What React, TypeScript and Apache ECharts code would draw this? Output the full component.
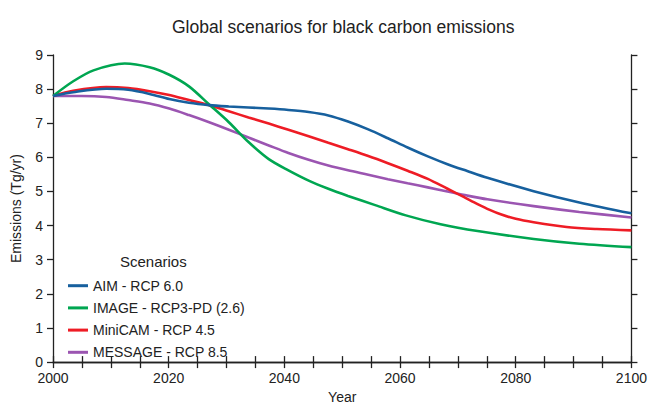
import React, { useEffect, useRef } from "react";
import * as echarts from "echarts";

const aimYears = [2000, 2003.5, 2009.2, 2013, 2016.7, 2020.1, 2023.5, 2027, 2030.4, 2033.8, 2037.3, 2040.7, 2044.2, 2047.6, 2051, 2054.5, 2057.9, 2061.3, 2064.8, 2068.2, 2071.6, 2075.1, 2083.1, 2091, 2100];
const aimValues = [7.8, 7.91, 8.01, 7.98, 7.86, 7.71, 7.6, 7.53, 7.49, 7.46, 7.43, 7.39, 7.33, 7.23, 7.05, 6.82, 6.56, 6.29, 6.03, 5.8, 5.6, 5.4, 5.01, 4.68, 4.36];

const imageYears = [2000, 2003.5, 2007, 2012.4, 2016.7, 2020.1, 2023.5, 2027, 2030.4, 2033.8, 2037.3, 2040.7, 2044.2, 2047.6, 2051, 2055.7, 2061, 2067, 2073.4, 2083.1, 2091, 2100];
const imageValues = [7.8, 8.23, 8.55, 8.75, 8.64, 8.42, 8.08, 7.55, 7.03, 6.45, 5.95, 5.62, 5.32, 5.08, 4.87, 4.6, 4.3, 4.04, 3.84, 3.61, 3.47, 3.37];

const miniCamYears = [2000, 2003.5, 2009.2, 2013, 2016.7, 2020.1, 2023.5, 2027, 2030.4, 2033.8, 2037.3, 2040.7, 2044.2, 2047.6, 2051, 2054.5, 2057.9, 2061.3, 2064.8, 2068.2, 2071, 2073.4, 2075.5, 2077.4, 2080, 2083.1, 2088.8, 2094, 2100];
const miniCamValues = [7.8, 7.95, 8.06, 8.03, 7.94, 7.83, 7.68, 7.53, 7.35, 7.17, 6.99, 6.81, 6.62, 6.43, 6.24, 6.04, 5.83, 5.61, 5.37, 5.08, 4.84, 4.63, 4.46, 4.33, 4.2, 4.1, 3.96, 3.9, 3.86];

const messageYears = [2000, 2005, 2009.2, 2013, 2016.7, 2020.1, 2023.5, 2027, 2030.4, 2033.8, 2037.3, 2040.7, 2044.2, 2047.6, 2051, 2054.5, 2057.9, 2061.3, 2064.8, 2068.2, 2071.6, 2075.1, 2083.1, 2091, 2100];
const messageValues = [7.8, 7.8, 7.77, 7.68, 7.58, 7.43, 7.24, 7.03, 6.81, 6.58, 6.35, 6.13, 5.93, 5.76, 5.62, 5.49, 5.36, 5.24, 5.12, 5.0, 4.88, 4.77, 4.57, 4.4, 4.24];

const seriesNames = ["AIM - RCP 6.0", "IMAGE - RCP3-PD (2.6)", "MiniCAM - RCP 4.5", "MESSAGE - RCP 8.5"];
const seriesYears = [aimYears, imageYears, miniCamYears, messageYears];
const seriesValues = [aimValues, imageValues, miniCamValues, messageValues];
const seriesColors = ["#17609e", "#00a651", "#ee1c25", "#9b55b1"];

const FONT = "'Liberation Sans', Arial, sans-serif";

export default function App() {
  const ref = useRef<HTMLDivElement>(null);
  useEffect(() => {
    if (!ref.current) return;
    const chart = echarts.init(ref.current, null, { renderer: "svg" });
    const axisLine = { show: true, lineStyle: { color: "#222", width: 1.3 } };
    const tickStyle = { color: "#222", width: 1.3 };
    chart.setOption({
      animation: false,
      backgroundColor: "#fff",
      textStyle: { fontFamily: FONT },
      title: {
        text: "Global scenarios for black carbon emissions",
        left: 172,
        top: 18,
        padding: 0,
        textStyle: { fontFamily: FONT, fontSize: 17.5, fontWeight: "normal", color: "#222" },
      },
      grid: { left: 53, right: 14, top: 55, bottom: 42 },
      legend: {
        orient: "vertical",
        left: 68,
        top: 277.7,
        padding: 0,
        icon: "rect",
        itemWidth: 20,
        itemHeight: 3,
        itemGap: 6.2,
        data: seriesNames,
        textStyle: { fontFamily: FONT, fontSize: 14, color: "#222", lineHeight: 16 },
      },
      graphic: [
        {
          type: "text",
          left: 120,
          top: 254,
          style: { text: "Scenarios", fontFamily: FONT, fontSize: 15, fill: "#222" },
        },
      ],
      xAxis: [
        {
          type: "value",
          min: 2000,
          max: 2100,
          interval: 20,
          position: "bottom",
          axisLine,
          axisTick: { show: true, inside: false, length: 6, lineStyle: tickStyle },
          minorTick: { show: true, splitNumber: 4, length: 6, lineStyle: tickStyle },
          splitLine: { show: false },
          axisLabel: { color: "#222", fontSize: 14, fontFamily: FONT, margin: 9, formatter: (v: number) => String(v) },
          name: "Year",
          nameLocation: "middle",
          nameGap: 27,
          nameTextStyle: { color: "#222", fontSize: 14, fontFamily: FONT },
        },
        {
          type: "value",
          min: 2000,
          max: 2100,
          interval: 20,
          position: "top",
          axisLine,
          axisTick: { show: true, inside: false, length: 6, lineStyle: tickStyle },
          minorTick: { show: true, splitNumber: 4, length: 6, lineStyle: tickStyle },
          splitLine: { show: false },
          axisLabel: { show: false },
        },
      ],
      yAxis: [
        {
          type: "value",
          min: 0,
          max: 9,
          interval: 1,
          position: "left",
          axisLine,
          axisTick: { show: true, inside: false, length: 6, lineStyle: tickStyle },
          splitLine: { show: false },
          axisLabel: { color: "#222", fontSize: 14, fontFamily: FONT, margin: 10 },
          name: "Emissions (Tg/yr)",
          nameLocation: "middle",
          nameGap: 30,
          nameTextStyle: { color: "#222", fontSize: 14, fontFamily: FONT },
        },
        {
          type: "value",
          min: 0,
          max: 9,
          interval: 1,
          position: "right",
          axisLine,
          axisTick: { show: true, inside: false, length: 6, lineStyle: tickStyle },
          splitLine: { show: false },
          axisLabel: { show: false },
        },
      ],
      series: seriesNames.map((name, i) => ({
        name,
        type: "line",
        xAxisIndex: 0,
        yAxisIndex: 0,
        data: seriesYears[i].map((y, j) => [y, seriesValues[i][j]]),
        smooth: 0.3,
        showSymbol: false,
        symbol: "none",
        color: seriesColors[i],
        lineStyle: { width: 2.6, color: seriesColors[i] },
        z: 4 - i,
      })),
    });
    return () => chart.dispose();
  }, []);
  return <div ref={ref} style={{ position: "absolute", left: 0, top: 0, width: 650, height: 409 }} />;
}
